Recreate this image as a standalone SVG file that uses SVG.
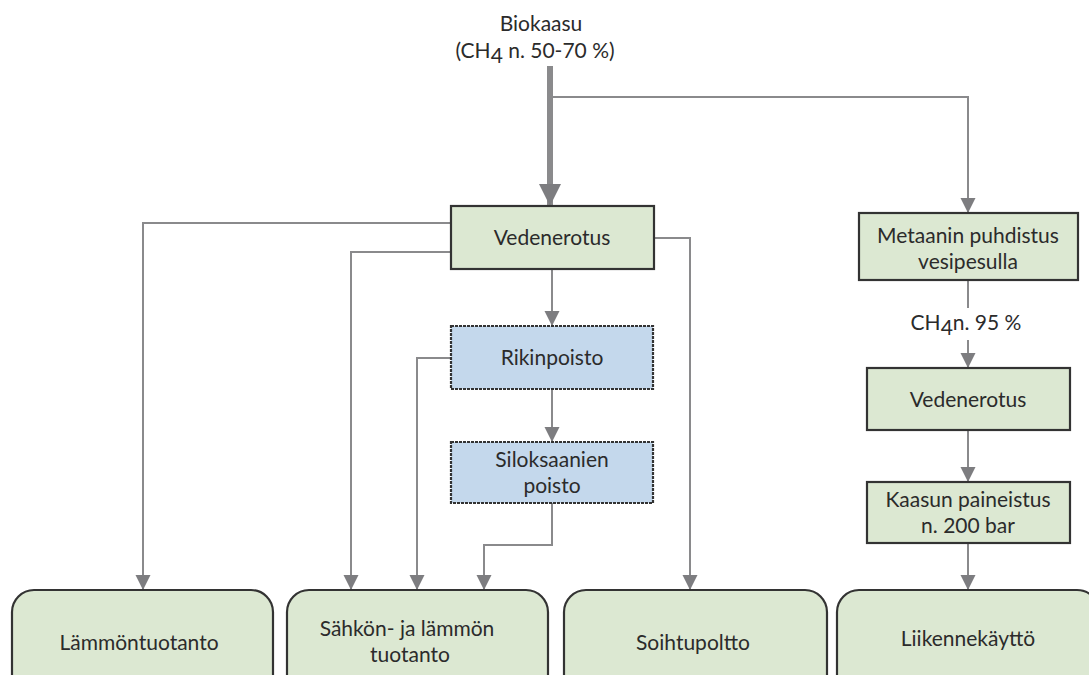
<svg xmlns="http://www.w3.org/2000/svg" width="1089" height="675" viewBox="0 0 1089 675">
<style>
.t{font-family:Lato,"Open Sans","Liberation Sans",sans-serif;font-size:21px;fill:#2b2b2b;text-anchor:middle}
.g{fill:#dce8d2;stroke:#333;stroke-width:2.2}
.b{fill:#c4d8ec;stroke:#333;stroke-width:2.2;stroke-dasharray:3 1}
.c{fill:none;stroke:#8a8a8c;stroke-width:2}
</style>
<defs>
<marker id="a" markerUnits="userSpaceOnUse" markerWidth="16" markerHeight="18" refX="15" refY="7.5" orient="auto">
<path d="M0,0 L15,7.5 L0,15 Z" fill="#7d7d80"/>
</marker>
<marker id="A" markerUnits="userSpaceOnUse" markerWidth="24" markerHeight="24" refX="22" refY="11" orient="auto">
<path d="M0,0 L22,11 L0,22 Z" fill="#7d7d80"/>
</marker>
</defs>
<rect width="1089" height="675" fill="#fff"/>
<g id="connectors">
<line x1="550" y1="66" x2="550" y2="206" stroke="#8a8a8c" stroke-width="6" marker-end="url(#A)"/>
<polyline class="c" points="552,97 968,97 968,213" marker-end="url(#a)"/>
<polyline class="c" points="451,223 143,223 143,590" marker-end="url(#a)"/>
<polyline class="c" points="451,252 351,252 351,590" marker-end="url(#a)"/>
<polyline class="c" points="654,238 690,238 690,590" marker-end="url(#a)"/>
<line class="c" x1="552" y1="269" x2="552" y2="326" marker-end="url(#a)"/>
<polyline class="c" points="451,358 417,358 417,590" marker-end="url(#a)"/>
<line class="c" x1="552" y1="389" x2="552" y2="442" marker-end="url(#a)"/>
<polyline class="c" points="552,503 552,545 484,545 484,590" marker-end="url(#a)"/>
<line class="c" x1="968" y1="280" x2="968" y2="308"/>
<line class="c" x1="968" y1="340" x2="968" y2="368" marker-end="url(#a)"/>
<line class="c" x1="968" y1="430" x2="968" y2="482" marker-end="url(#a)"/>
<line class="c" x1="968" y1="543" x2="968" y2="590" marker-end="url(#a)"/>
</g>
<g id="biokaasu">
<text class="t" x="541" y="31">Biokaasu</text>
<text class="t" x="535" y="58">(CH<tspan dy="5">4</tspan><tspan dy="-5"> n. 50-70 %)</tspan></text>
</g>
<g id="vedenerotus1">
<rect class="g" x="451" y="206" width="203" height="63"/>
<text class="t" x="552" y="245">Vedenerotus</text>
</g>
<g id="rikinpoisto">
<rect class="b" x="451" y="326" width="202" height="63"/>
<text class="t" x="552" y="365">Rikinpoisto</text>
</g>
<g id="siloksaanien">
<rect class="b" x="451" y="442" width="202" height="61"/>
<text class="t" x="552" y="467">Siloksaanien</text>
<text class="t" x="552" y="493">poisto</text>
</g>
<g id="metaanin">
<rect class="g" x="859" y="213" width="219" height="67"/>
<text class="t" x="968" y="243">Metaanin puhdistus</text>
<text class="t" x="968" y="269">vesipesulla</text>
</g>
<g id="ch4label">
<text class="t" x="966" y="330">CH<tspan dy="5">4</tspan><tspan dy="-5">n. 95 %</tspan></text>
</g>
<g id="vedenerotus2">
<rect class="g" x="867" y="368" width="203" height="62"/>
<text class="t" x="968" y="407">Vedenerotus</text>
</g>
<g id="kaasun">
<rect class="g" x="867" y="482" width="203" height="61"/>
<text class="t" x="968" y="507">Kaasun paineistus</text>
<text class="t" x="968" y="533">n. 200 bar</text>
</g>
<g id="lammontuotanto">
<rect class="g" x="12" y="590" width="261" height="110" rx="22"/>
<text class="t" x="139" y="650">Lämmöntuotanto</text>
</g>
<g id="sahkon">
<rect class="g" x="287" y="590" width="261" height="110" rx="22"/>
<text class="t" x="407" y="636">Sähkön- ja lämmön</text>
<text class="t" x="410" y="662">tuotanto</text>
</g>
<g id="soihtupoltto">
<rect class="g" x="564" y="590" width="263" height="110" rx="22"/>
<text class="t" x="693" y="650">Soihtupoltto</text>
</g>
<g id="liikennekaytto">
<rect class="g" x="837" y="590" width="262" height="110" rx="22"/>
<text class="t" x="968" y="646">Liikennekäyttö</text>
</g>
</svg>
